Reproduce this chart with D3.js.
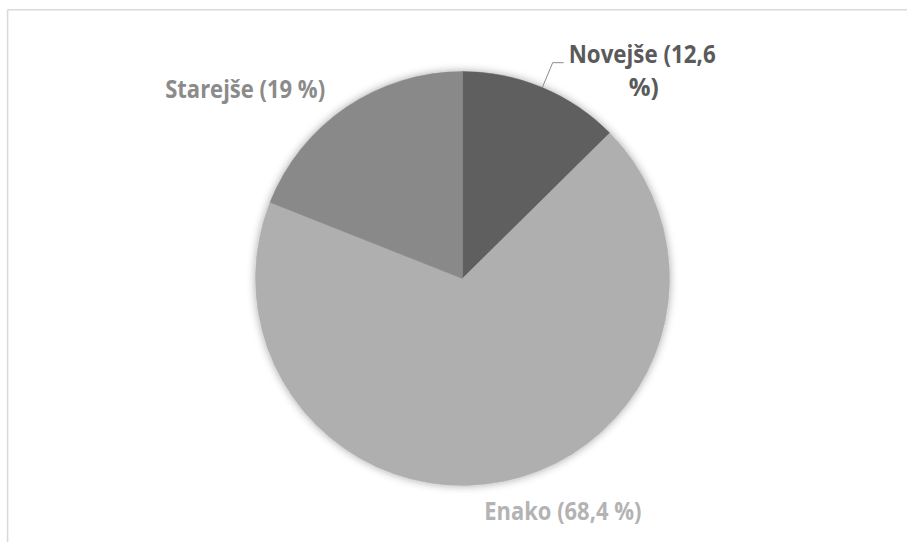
<!DOCTYPE html>
<html>
<head>
<meta charset="utf-8">
<script src="https://cdn.jsdelivr.net/npm/d3@7"></script>
<style>
  html, body { margin: 0; padding: 0; background: #fff; }
  svg { display: block; }
  text { font-family: "Open Sans", Lato, sans-serif; font-weight: 700; }
</style>
</head>
<body>
<svg id="chart" width="907" height="542"></svg>
<script>
// Age of the product compared with the previous one (shares in %)
const categories = ["Novejše", "Enako", "Starejše"];
const values = [12.6, 68.4, 19];
const valueLabels = ["12,6", "68,4", "19"];
const colors = ["#5f5f5f", "#afafaf", "#898989"];
const labelColors = ["#5a5a5a", "#b3b3b3", "#8b8b8b"];

const W = 907, H = 542;
const cx = 462.5, cy = 278.5, R = 207;

const svg = d3.select("#chart");

// chart area frame (only top and left edges fall inside the view)
svg.append("line").attr("x1", 7.6).attr("y1", 9.8).attr("x2", W).attr("y2", 9.8)
  .attr("stroke", "#d9d9d9").attr("stroke-width", 1.5);
svg.append("line").attr("x1", 7.6).attr("y1", 9.8).attr("x2", 7.6).attr("y2", H)
  .attr("stroke", "#d9d9d9").attr("stroke-width", 1.5);

// soft shadow around the pie
const defs = svg.append("defs");
const f = defs.append("filter").attr("id", "glow")
  .attr("x", "-20%").attr("y", "-20%").attr("width", "140%").attr("height", "140%");
f.append("feGaussianBlur").attr("in", "SourceAlpha").attr("stdDeviation", 4).attr("result", "b");
f.append("feFlood").attr("flood-color", "#000").attr("flood-opacity", 0.35).attr("result", "c");
f.append("feComposite").attr("in", "c").attr("in2", "b").attr("operator", "in").attr("result", "s");
const m = f.append("feMerge");
m.append("feMergeNode").attr("in", "s");
m.append("feMergeNode").attr("in", "SourceGraphic");

const pie = d3.pie().sort(null).value(d => d.value);
const data = categories.map((c, i) => ({ name: c, value: values[i], label: valueLabels[i], i }));
const arcs = pie(data);
const arc = d3.arc().innerRadius(0).outerRadius(R);

const g = svg.append("g").attr("transform", `translate(${cx},${cy})`);
const slices = g.append("g").attr("filter", "url(#glow)");
slices.selectAll("path").data(arcs).join("path")
  .attr("d", arc)
  .attr("fill", d => colors[d.data.i])
  .attr("stroke", d => colors[d.data.i])
  .attr("stroke-width", 0.5);

// point at radius r along the slice's middle angle
function along(d, r) {
  const a = (d.startAngle + d.endAngle) / 2;
  return [r * Math.sin(a), -r * Math.cos(a)];
}

const labels = g.append("g");
const FS = 24.5;

// Novejše: label with leader line
{
  const d = arcs[0];
  const p0 = along(d, R);
  const p1 = along(d, R * 1.13);
  const p2 = [p1[0] + 11, p1[1]];
  labels.append("polyline")
    .attr("points", [p0, p1, p2].map(p => p.join(",")).join(" "))
    .attr("fill", "none").attr("stroke", "#8c8c8c").attr("stroke-width", 1);
  const t = labels.append("text")
    .attr("fill", labelColors[0]).attr("font-size", FS).attr("text-anchor", "middle");
  const xc = p2[0] + 5 + 73.5;
  t.append("tspan").attr("x", xc).attr("y", p2[1] + 0.8)
    .attr("textLength", 147).attr("lengthAdjust", "spacingAndGlyphs")
    .text(`${d.data.name} (${d.data.label}`);
  t.append("tspan").attr("x", xc + 1.5).attr("y", p2[1] + 33.3)
    .attr("textLength", 30).attr("lengthAdjust", "spacingAndGlyphs")
    .text("%)");
}

// Enako: below the pie
{
  const d = arcs[1];
  const p = along(d, R);
  labels.append("text")
    .attr("x", p[0] + 59).attr("y", p[1] + 39)
    .attr("text-anchor", "middle").attr("font-size", FS)
    .attr("fill", labelColors[1])
    .attr("textLength", 157).attr("lengthAdjust", "spacingAndGlyphs")
    .text(`${d.data.name} (${d.data.label} %)`);
}

// Starejše: upper left
{
  const d = arcs[2];
  const p = along(d, R);
  labels.append("text")
    .attr("x", p[0] - 21).attr("y", p[1] - 9)
    .attr("text-anchor", "end").attr("font-size", FS)
    .attr("fill", labelColors[2])
    .attr("textLength", 160).attr("lengthAdjust", "spacingAndGlyphs")
    .text(`${d.data.name} (${d.data.label} %)`);
}
</script>
</body>
</html>
